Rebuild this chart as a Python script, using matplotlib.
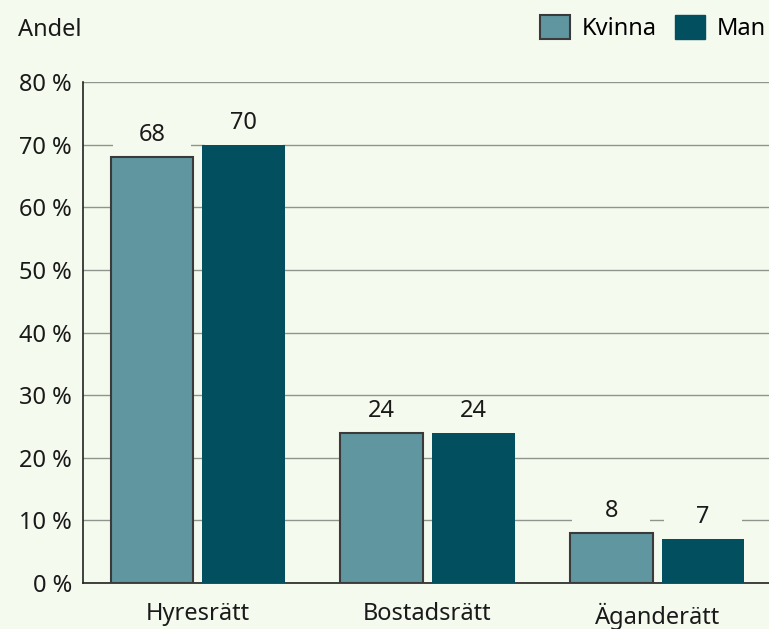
import numpy as np
import matplotlib
matplotlib.use("Agg")
import matplotlib.pyplot as plt
from matplotlib.ticker import FuncFormatter
from matplotlib.patches import Patch

categories = ["Hyresrätt", "Bostadsrätt", "Äganderätt"]
kvinna = [68, 24, 8]
man = [70, 24, 7]
series = ["Kvinna", "Man"]

bg = "#f4faee"
c_kvinna = "#5f96a0"
c_man = "#02505f"
edge = "#3a3a3a"
fs = 17

plt.rcParams["font.family"] = ["Noto Sans", "DejaVu Sans"]
plt.rcParams["font.size"] = fs

fig = plt.figure(figsize=(7.69, 6.29), dpi=100, facecolor=bg)
ax = fig.add_axes([83 / 769, 1 - 583 / 629, 1 - 83 / 769, (583 - 82) / 629])
ax.set_facecolor(bg)

x = np.arange(len(categories))
w = 0.36
off = 0.2

# background patches behind value labels (cut the grid lines)
for xs, vals in [(x - off, kvinna), (x + off, man)]:
    ax.bar(xs, 5.2, bottom=vals, width=0.34, color=bg, zorder=2)

ax.bar(x - off, kvinna, width=w, color=c_kvinna, edgecolor=edge, linewidth=1.5, zorder=3)
ax.bar(x + off, man, width=w, color=c_man, zorder=3)

for xs, vals in [(x - off, kvinna), (x + off, man)]:
    for xi, v in zip(xs, vals):
        ax.annotate(str(v), (xi, v), xytext=(0, 7), textcoords="offset points",
                    ha="center", va="bottom", fontsize=fs, color="#1a1a1a", zorder=4)

ax.set_xlim(-0.5, 2.487)
ax.set_ylim(0, 80)
ax.set_yticks(range(0, 81, 10))
ax.yaxis.set_major_formatter(FuncFormatter(lambda v, p: f"{v:.0f}\u00a0%"))
ax.set_xticks(x)
ax.set_xticklabels(categories)
ax.tick_params(axis="both", length=0, colors="#1a1a1a", labelsize=fs)
ax.tick_params(axis="x", pad=14)
ax.tick_params(axis="y", pad=8)

ax.yaxis.grid(True, color="#8f958c", linewidth=1, zorder=0)
ax.set_axisbelow(True)
for s in ["top", "right"]:
    ax.spines[s].set_visible(False)
for s in ["left", "bottom"]:
    ax.spines[s].set_color("#222222")
    ax.spines[s].set_linewidth(1.2)

fig.text(18 / 769, 1 - 30 / 629, "Andel", ha="left", va="center", fontsize=fs, color="#1a1a1a")

handles = [Patch(facecolor=c_kvinna, edgecolor=edge, linewidth=1.5, label=series[0]),
           Patch(facecolor=c_man, edgecolor=c_man, label=series[1])]
fig.legend(handles=handles, loc="upper left", bbox_to_anchor=(531 / 769, 1 - 6 / 629),
           ncol=2, frameon=False, fontsize=fs, handlelength=1.27, handleheight=1.19,
           handletextpad=0.5, columnspacing=0.75, borderaxespad=0)

fig.savefig("out.png", dpi=100, facecolor=bg)
